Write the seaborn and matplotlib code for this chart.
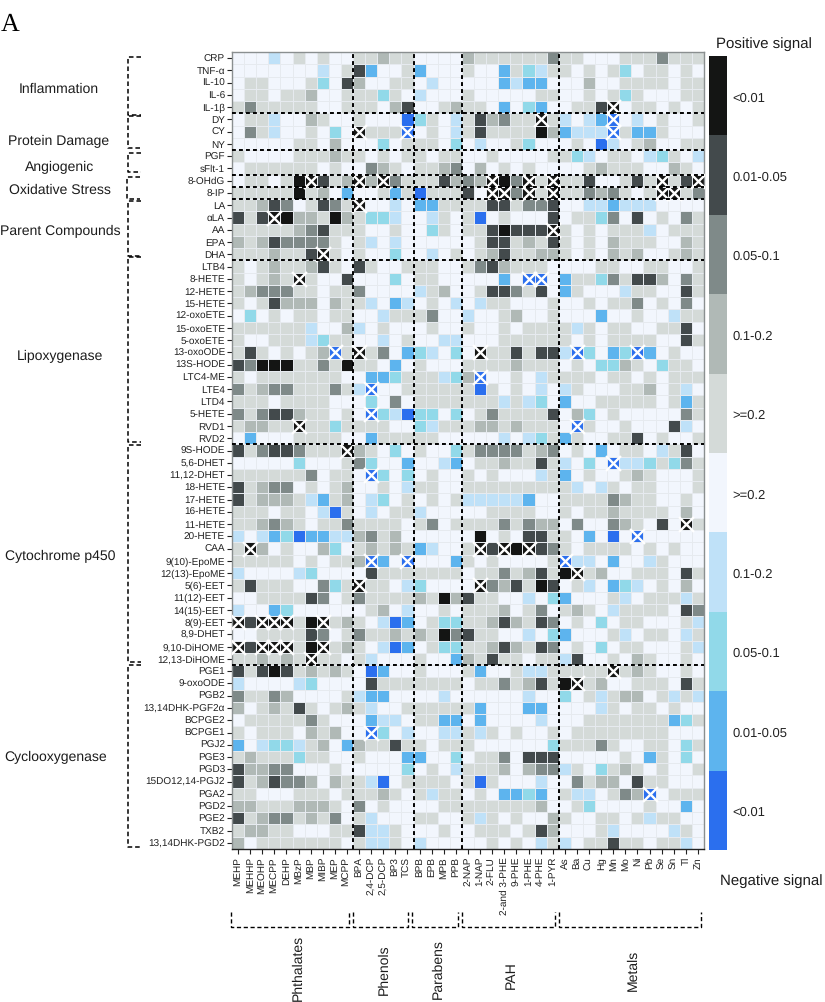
import matplotlib
matplotlib.use("Agg")
import matplotlib.pyplot as plt
from matplotlib.colors import ListedColormap
import numpy as np
import pandas as pd
import seaborn as sns

phthalates = ["MEHP", "MEHHP", "MEOHP", "MECPP", "DEHP", "MBzP", "MBP", "MIBP", "MEP", "MCPP"]
phenols = ["BPA", "2,4-DCP", "2,5-DCP", "BP3", "TCS"]
parabens = ["BPB", "EPB", "MPB", "PPB"]
pahs = ["2-NAP", "1-NAP", "2-FLU", "2-and 3-PHE", "9-PHE", "1-PHE", "4-PHE", "1-PYR"]
metals = ["As", "Ba", "Cu", "Hg", "Mn", "Mo", "Ni", "Pb", "Se", "Sn", "Tl", "Zn"]

# Level codes: 0-4 negative signal (<0.01 ... >=0.2), 5-9 positive signal (>=0.2 ... <0.01)
inflammation = {
    "CRP": "4443454544 55655 4444 65555557 554445557555",
    "TNF-α": "4444444345 81445 1444 54415235 545452455454",
    "IL-10": "4554445248 64455 4344 44413114 446445555455",
    "IL-6": "4554556445 55254 3444 54444455 445452544455",
    "IL-1β": "5755555445 55468 4456 55414214 455894554545",
}
protein_damage = {
    "DY": "4553446544 54440 2543 58675595 343104345445",
    "CY": "4753445424 95550 4543 58555596 133305115444",
    "NY": "4444455464 44245 5542 43445244 454034564455",
}
angiogenic = {
    "PGF": "5444455565 54545 5455 44544445 523455432543",
    "sFlt-1": "4555555454 47654 5567 46454544 445655544654",
}
oxidative_stress = {
    "8-OHdG": "4554599856 96975 5586 76997959 558445859589",
    "8-IP": "5555595641 44515 0555 84997959 557675459957",
}
parent_compounds = {
    "LA": "5568745875 94434 1155 55885778 443313334444",
    "αLA": "8589966596 52234 4354 50454448 455274845475",
    "AA": "5555567855 54454 4254 55898889 545455534555",
    "EPA": "6568777754 53434 4444 45885658 545465554465",
    "DHA": "5556558954 54424 4345 45685566 545465644565",
}
lipoxygenase = {
    "LTB4": "5456556854 85445 5544 57865554 444554455445",
    "8-HETE": "5456595448 44424 5544 44414004 155275886475",
    "12-HETE": "5677755455 74444 3564 45887584 154443554485",
    "15-HETE": "5458666465 53413 4543 43554445 445455745474",
    "12-oxoETE": "4245455455 44355 5744 34456445 444144544355",
    "15-oxoETE": "5555553446 34544 4544 54454555 535455445584",
    "5-oxoETE": "5445553255 44345 4433 44455555 545455554485",
    "13-oxoODE": "5854545605 95741 2342 49558588 302412014544",
    "13S-HODE": "8799955759 55414 5444 55556555 454226542554",
    "LTC4-ME": "5455555554 41125 5532 60445435 555455454555",
    "LTE4": "7567755575 30445 5555 50545434 354445564534",
    "LTD4": "5554555544 42474 5555 55535324 144555554515",
    "5-HETE": "7578865545 40230 2242 45755558 462454444475",
    "RVD1": "5665595525 55544 2355 56656555 405445444834",
    "RVD2": "4144455554 41555 5544 44434325 154455845445",
}
cytochrome = {
    "9S-HODE": "8578875559 65424 5442 57777567 454145543584",
    "5,6-DHET": "4444424445 72441 4431 45565585 342403325275",
    "11,12-DHET": "5555557455 40242 4544 54544435 145445654445",
    "18-HETE": "8567745456 44543 5544 55555555 534354554445",
    "17-HETE": "8566653156 43245 4545 33333144 555576554454",
    "16-HETE": "5554554305 43455 3444 44555544 545565555464",
    "11-HETE": "5567654557 55554 5745 55575766 474476548495",
    "20-HETE": "3431201133 67564 4444 49454885 541404044444",
    "CAA": "5964544624 56565 1344 59899987 545555454544",
    "9(10)-EpoME": "5555545455 60140 4441 54544445 033414435444",
    "12(13)-EpoME": "3444432444 48555 5555 45575685 995644555485",
    "5(6)-EET": "5855544725 95543 2444 49768598 453412345464",
    "11(12)-EET": "4455558745 75555 6596 85544342 144453455535",
    "14(15)-EET": "3441244444 45643 4454 55564574 565435555487",
    "8(9)-EET": "9899959956 54301 4522 55686587 454245544453",
    "8,9-DHET": "4455558745 75565 6597 85544342 144453455435",
    "9,10-DiHOME": "9899959956 54301 4522 55686587 454245544453",
    "12,13-DiHOME": "5565659554 53444 5441 65855455 384454654454",
}
cyclooxygenase = {
    "PGE1": "8589856565 40144 5444 51445335 555595654454",
    "9-oxoODE": "3444432444 48555 5555 45575685 995644555485",
    "PGB2": "7557644445 31144 4434 44444344 245356645353",
    "13,14DHK-PGF2α": "6456585456 53445 5555 51444114 444354554544",
    "BCPGE2": "4555557544 41334 5511 41444434 445555555125",
    "BCPGE1": "5455546564 40243 4433 53545445 455555555444",
    "PGJ2": "1432235641 65585 5455 54444442 555754455425",
    "PGE3": "5655525544 54441 1442 45574888 444445415424",
    "PGD3": "8667744454 44442 4543 55564677 354256545445",
    "15DO12,14-PGJ2": "8568776465 53045 5554 50544434 475664855444",
    "PGA2": "5544455545 55654 5355 45411214 533457604555",
    "PGD2": "6655566654 74544 4455 55555564 452444454414",
    "PGE2": "8567756574 53444 5544 53545446 544554535544",
    "TXB2": "5665544455 83354 4454 45554586 444534444354",
    "13,14DHK-PGD2": "6455555554 53354 3444 44545435 345585545534",
}

significant = [
    ("IL-1β", "Mn"), ("DY", "4-PHE"), ("DY", "Mn"), ("CY", "BPA"), ("CY", "TCS"), ("CY", "Mn"),
    ("8-OHdG", "MBP"), ("8-OHdG", "BPA"), ("8-OHdG", "2,5-DCP"), ("8-OHdG", "2-FLU"),
    ("8-OHdG", "1-PHE"), ("8-OHdG", "1-PYR"), ("8-OHdG", "Se"), ("8-OHdG", "Zn"),
    ("8-IP", "2-FLU"), ("8-IP", "2-and 3-PHE"), ("8-IP", "1-PHE"), ("8-IP", "1-PYR"),
    ("8-IP", "Se"), ("8-IP", "Sn"), ("LA", "BPA"), ("αLA", "MECPP"), ("AA", "1-PYR"),
    ("DHA", "MIBP"), ("8-HETE", "MBzP"), ("8-HETE", "1-PHE"), ("8-HETE", "4-PHE"),
    ("13-oxoODE", "MEP"), ("13-oxoODE", "BPA"), ("13-oxoODE", "1-NAP"), ("13-oxoODE", "Ba"),
    ("13-oxoODE", "Ni"), ("LTC4-ME", "1-NAP"), ("LTE4", "2,4-DCP"), ("5-HETE", "2,4-DCP"),
    ("RVD1", "MBzP"), ("RVD1", "Ba"), ("9S-HODE", "MCPP"), ("5,6-DHET", "Mn"),
    ("11,12-DHET", "2,4-DCP"), ("11-HETE", "Tl"), ("20-HETE", "Ni"), ("CAA", "MEHHP"),
    ("CAA", "1-NAP"), ("CAA", "2-and 3-PHE"), ("CAA", "1-PHE"), ("9(10)-EpoME", "2,4-DCP"),
    ("9(10)-EpoME", "TCS"), ("9(10)-EpoME", "As"), ("12(13)-EpoME", "Ba"), ("5(6)-EET", "BPA"),
    ("5(6)-EET", "1-NAP"), ("8(9)-EET", "MEHP"), ("8(9)-EET", "MEOHP"), ("8(9)-EET", "MECPP"),
    ("8(9)-EET", "DEHP"), ("8(9)-EET", "MIBP"), ("9,10-DiHOME", "MEHP"), ("9,10-DiHOME", "MEOHP"),
    ("9,10-DiHOME", "MECPP"), ("9,10-DiHOME", "DEHP"), ("9,10-DiHOME", "MIBP"),
    ("12,13-DiHOME", "MBP"), ("PGE1", "Mn"), ("9-oxoODE", "Ba"), ("BCPGE1", "2,4-DCP"),
    ("PGA2", "Pb"),
]

level_colors = ["#2b6fee", "#5db4ee", "#91d9e9", "#bfe1f8", "#f2f6fd",
                "#d4dad8", "#b0b9b6", "#7f8a89", "#434a4c", "#141514"]
level_labels = ["<0.01", "0.01-0.05", "0.05-0.1", "0.1-0.2", ">=0.2",
                ">=0.2", "0.1-0.2", "0.05-0.1", "0.01-0.05", "<0.01"]

exposure_groups = [phthalates, phenols, parabens, pahs, metals]
exposures = sum(exposure_groups, [])
biomarker_groups = [inflammation, protein_damage, angiogenic, oxidative_stress,
                    parent_compounds, lipoxygenase, cytochrome, cyclooxygenase]
rows = {}
for g in biomarker_groups:
    for name, s in g.items():
        rows[name] = [int(c) for c in s.replace(" ", "")]
        assert len(rows[name]) == len(exposures), name
df = pd.DataFrame.from_dict(rows, orient="index", columns=exposures)

W, H = 825, 1003
plt.rcParams["font.family"] = ["Liberation Sans", "DejaVu Sans"]
plt.rcParams["text.hinting"] = "no_hinting"
plt.rcParams["text.hinting_factor"] = 1
fig = plt.figure(figsize=(W / 100, H / 100), dpi=100)


def box(x0, y0, x1, y1):
    return [x0 / W, 1 - y1 / H, (x1 - x0) / W, (y1 - y0) / H]


ax = fig.add_axes(box(232, 53, 704, 850))
cax = fig.add_axes(box(709, 57, 727, 851))
sns.heatmap(df, ax=ax, cbar_ax=cax, cmap=ListedColormap(level_colors), vmin=-0.5, vmax=9.5,
            linewidths=0.7, linecolor="#e6eaef", xticklabels=True, yticklabels=True)

ax.tick_params(axis="both", length=3.5, width=0.8, color="#222222", labelsize=7.2,
               pad=1.5, labelcolor="#222222")
ax.set_xticklabels(exposures, rotation=90)
ax.set_yticklabels(list(rows), rotation=0)
ax.set_xlabel("")
ax.set_ylabel("")
for side, sp in ax.spines.items():
    sp.set_visible(True)
    sp.set_color("#222222" if side == "bottom" else "#8a8f90")
    sp.set_linewidth(1.0)

xs = [exposures.index(c) + 0.5 for _, c in significant]
ys = [list(rows).index(r) + 0.5 for r, _ in significant]
ax.scatter(xs, ys, marker="x", s=115, c="white", linewidths=1.7, zorder=4, clip_on=True)

dash = (0, (2.0, 1.6))
col_edges = np.cumsum([len(g) for g in exposure_groups])[:-1]
row_edges = [5, 8, 10, 11, 12, 17, 32, 50]
for e in row_edges:
    ax.axhline(e, color="black", lw=1.4, ls=dash, zorder=5)
for e in col_edges:
    ax.axvline(e, color="black", lw=1.4, ls=dash, zorder=5)

cbar = ax.collections[0].colorbar
cbar.set_ticks(range(10))
cbar.set_ticklabels(level_labels)
cbar.ax.tick_params(length=0, labelsize=9.4, pad=4, labelcolor="#222222")
cbar.outline.set_visible(False)

over = fig.add_axes([0, 0, 1, 1], facecolor="none")
over.set_xlim(0, W)
over.set_ylim(H, 0)
over.axis("off")

tc = "#1c1c1c"
over.text(1, 31, "A", family="Liberation Serif", fontsize=18.5, color="black", va="baseline")
over.text(764, 44, "Positive signal", fontsize=11, ha="center", va="center", color=tc)
over.text(771, 881, "Negative signal", fontsize=11, ha="center", va="center", color=tc)

left_labels = [("Inflammation", 59, 89), ("Protein Damage", 59, 141), ("Angiogenic", 60, 167),
               ("Oxidative Stress", 60, 190), ("Parent Compounds", 60, 231),
               ("Lipoxygenase", 60, 356), ("Cytochrome p450", 60, 556), ("Cyclooxygenase", 56, 757)]
for t, x, y in left_labels:
    over.text(x, y, t, fontsize=10, ha="center", va="center", color=tc)

left_brackets = [(127.5, 57.5, 116), (127.5, 117, 149), (128, 154, 173), (126.5, 178, 200),
                 (127.5, 202, 257), (127.5, 258, 443), (127.5, 446, 663), (128, 666, 848)]
bdash = (0, (3.0, 1.9))
for x, y0, y1 in left_brackets:
    over.plot([x + 13, x, x, x + 13], [y0, y0, y1, y1], color="black", lw=1.1, ls=bdash)

bottom_brackets = [(231, 349), (353, 408), (412, 458), (462, 555), (559, 701)]
for x0, x1 in bottom_brackets:
    over.plot([x0, x0, x1, x1], [913, 928, 928, 913], color="black", lw=1.0, ls=bdash)

bottom_labels = [("Phthalates", 298, 968), ("Phenols", 384, 970), ("Parabens", 438, 969),
                 ("PAH", 511, 975), ("Metals", 633, 970)]
for t, x, y in bottom_labels:
    over.text(x, y, t, fontsize=10, rotation=90, ha="center", va="center", color=tc)

fig.savefig("out.png", dpi=100)
